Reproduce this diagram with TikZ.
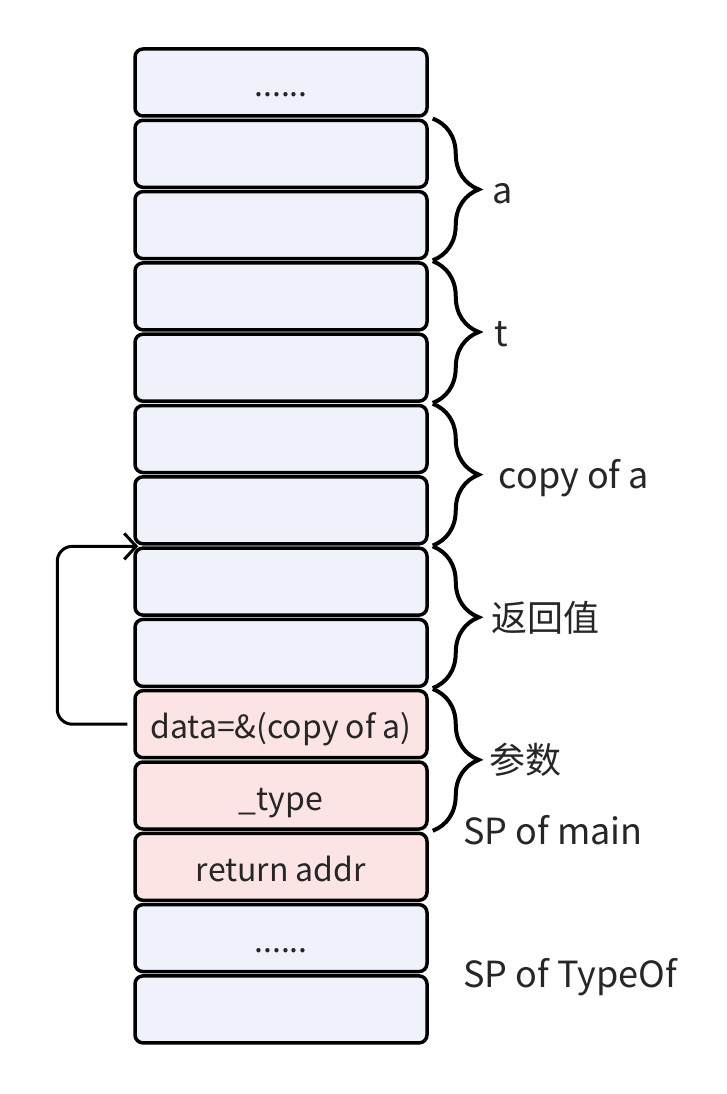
\documentclass[tikz,border=0pt]{standalone}
\usepackage{fontspec}
\setmainfont{Noto Sans CJK SC}
\usetikzlibrary{arrows.meta,positioning,decorations.pathreplacing}
\definecolor{slotblue}{RGB}{239,242,250}
\definecolor{slotpink}{RGB}{253,228,228}
\definecolor{inkgray}{RGB}{38,38,38}

\begin{document}
\begin{tikzpicture}[x=1pt, y=-1pt, node distance=71.3pt, line width=3.5pt]
        \tikzset{
           slot/.style={
                        rectangle,
                        rounded corners=8pt,
                        draw=black,
                        fill=slotblue,
                        text=inkgray,
                        minimum width=292pt,
                        minimum height=67pt,
                        inner sep=0pt,
                        text height=29pt,
                        text depth=0pt,
                        font=\fontsize{32}{38}\selectfont
                       },
           hot/.style={slot, fill=slotpink},
           span/.style={decorate, decoration={brace, amplitude=46pt}, line width=4pt},
           tag/.style={anchor=base west, inner sep=0pt, text=inkgray,
                       font=\fontsize{36}{42}\selectfont},
           link/.style={-{Straight Barb[length=12pt, width=26pt]}, line width=3pt,
                        rounded corners=15pt, shorten <=6pt, shorten >=-5pt},
                 };
    \useasboundingbox (0,0) rectangle (726,1094);
    %--------------------
        \node[slot]      (dots)  at (281,82.5)      {......};
        \node[slot]      (aHi)    [below of=dots]    {};
        \node[slot]      (aLo)    [below of=aHi]     {};
        \node[slot]      (tHi)    [below of=aLo]     {};
        \node[slot]      (tLo)    [below of=tHi]     {};
        \node[slot]      (copyHi) [below of=tLo]     {};
        \node[slot]      (copyLo) [below of=copyHi]  {};
        \node[slot]      (retHi)  [below of=copyLo]  {};
        \node[slot]      (retLo)  [below of=retHi]   {};
        \node[hot]       (data)   [below of=retLo]   {data=\&(copy of a)};
        \node[hot]       (type)   [below of=data]    {\_type};
        \node[hot]       (retAddr) [below of=type]   {return addr};
        \node[slot]      (dotsLow) [below of=retAddr] {......};
        \node[slot]      (bottom) [below of=dotsLow] {};
    %--------------------
        \draw[span] ([xshift=4pt]aHi.north east)    -- ([xshift=4pt]aLo.south east)
              node[tag, midway, xshift=58pt, yshift=-14pt] (aTag) {a};
        \draw[span] ([xshift=4pt]tHi.north east)    -- ([xshift=4pt]tLo.south east)
              node[tag, midway, xshift=60pt, yshift=-14pt] (tTag) {t};
        \draw[span] ([xshift=4pt]copyHi.north east) -- ([xshift=4pt]copyLo.south east)
              node[tag, midway, xshift=64pt, yshift=-14pt] (copyTag) {copy of a};
        \draw[span] ([xshift=4pt]retHi.north east)  -- ([xshift=4pt]retLo.south east)
              node[tag, midway, xshift=57pt, yshift=-14pt] (retTag) {返回值};
        \draw[span] ([xshift=4pt]data.north east)   -- ([xshift=4pt]type.south east)
              node[tag, midway, xshift=55pt, yshift=-14pt] (argTag) {参数};
        \node[tag] (spMain)   [right=33pt of type.south east, anchor=base west, yshift=-14pt] {SP of main};
        \node[tag] (spTypeOf) [right=33pt of dotsLow.south east, anchor=base west, yshift=-14pt] {SP of TypeOf};
    %--------------------
        \draw[link] (data.west) -- ++(-76pt,0) |- (retHi.north west);
    \end{tikzpicture}
\end{document}
